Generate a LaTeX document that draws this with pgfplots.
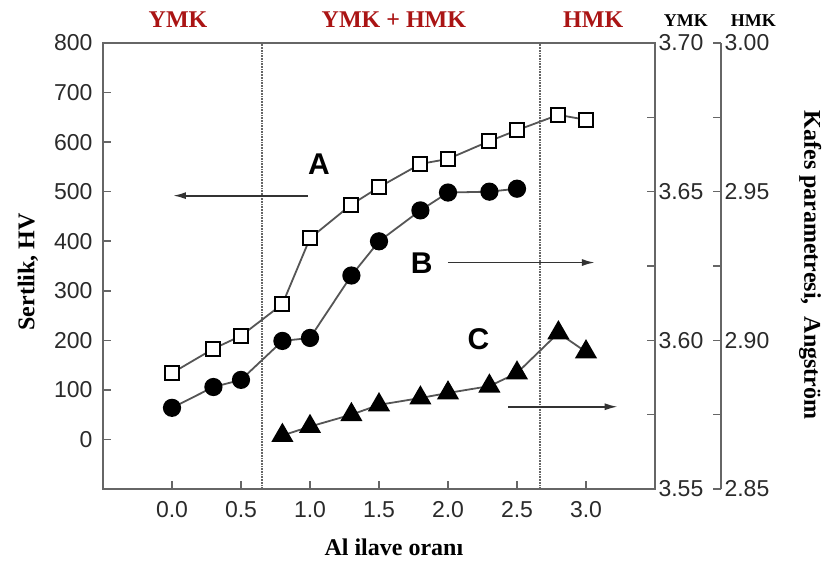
\documentclass[border=0pt]{standalone}
\usepackage{fontspec}
\setmainfont{Liberation Serif}
\newfontfamily\arial{Liberation Sans}
\usepackage{pgfplots}
\pgfplotsset{compat=1.18}
\usetikzlibrary{arrows.meta}
\definecolor{spine}{HTML}{666666}
\definecolor{ticktext}{HTML}{2A2A2A}
\definecolor{conn}{HTML}{555555}
\definecolor{zonered}{HTML}{AA1414}

\pgfplotsset{
  base/.style={scale only axis, width=552pt, height=446pt,
    xmin=-0.5, xmax=3.5, clip=false,
    axis line style={spine, line width=1.9pt},
    tick style={spine, line width=1.6pt},
    tick align=inside, major tick length=8pt, minor tick length=8pt,
    tick label style={font=\arial\fontsize{23}{23}\selectfont, text=ticktext},
    /pgf/number format/assume math mode=true},
}

\begin{document}
\begin{tikzpicture}
% hardness (left axis)
\begin{axis}[base, name=main,
    ymin=-100, ymax=800,
    xtick={0,0.5,1,1.5,2,2.5,3}, ytick={0,100,...,800},
    xtick pos=bottom, ytick pos=left,
    xticklabel style={yshift=-9pt, /pgf/number format/.cd, fixed, fixed zerofill, precision=1},
    yticklabel style={xshift=-7pt},
    xlabel={\bfseries Al ilave oranı},
    xlabel style={font=\fontsize{24}{24}\selectfont, at={(axis description cs:0.527,-0.150)}, anchor=base},
    ylabel={\bfseries Sertlik,\ HV},
    ylabel style={font=\fontsize{24}{24}\selectfont, at={(axis description cs:-0.136,0.487)}, anchor=center},
  ]
  \draw[spine, densely dotted, line width=1.7pt] (axis cs:0.652,-100) -- (axis cs:0.652,800);
  \draw[spine, densely dotted, line width=1.7pt] (axis cs:2.667,-100) -- (axis cs:2.667,800);

  \addplot[conn, line width=1.8pt, mark=square*, mark size=7pt,
    mark options={fill=white, draw=black, line width=2pt}] coordinates {
    (0.0,134) (0.3,183) (0.5,209) (0.8,273) (1.0,406) (1.3,474) (1.5,509)
    (1.8,556) (2.0,566) (2.3,602) (2.5,624) (2.8,655) (3.0,645)
  };

  \node[font=\arial\bfseries\fontsize{30}{30}\selectfont] at (axis cs:1.065,556) {A};
  \node[font=\arial\bfseries\fontsize{30}{30}\selectfont] at (axis cs:1.81,355) {B};
  \node[font=\arial\bfseries\fontsize{30}{30}\selectfont] at (axis cs:2.22,203) {C};
  \draw[-{Latex[length=13pt,width=7pt]}, line width=1.8pt, black!80] (axis cs:0.985,492) -- (axis cs:0.007,492);
  \draw[-{Latex[length=13pt,width=7pt]}, line width=1.8pt, black!80] (axis cs:2.0,357) -- (axis cs:3.065,357);
  \draw[-{Latex[length=13pt,width=7pt]}, line width=1.8pt, black!80] (axis cs:2.435,66) -- (axis cs:3.23,66);

  \node[font=\bfseries\fontsize{24}{24}\selectfont, text=zonered, anchor=base] at (rel axis cs:0.136,1.034) {YMK};
  \node[font=\bfseries\fontsize{24}{24}\selectfont, text=zonered, anchor=base] at (rel axis cs:0.527,1.034) {YMK + HMK};
  \node[font=\bfseries\fontsize{24}{24}\selectfont, text=zonered, anchor=base] at (rel axis cs:0.888,1.034) {HMK};
  \node[font=\bfseries\fontsize{18}{18}\selectfont, anchor=base] at (rel axis cs:1.056,1.038) {YMK};
  \node[font=\bfseries\fontsize{18}{18}\selectfont, anchor=base] at (rel axis cs:1.178,1.038) {HMK};
\end{axis}

% lattice parameter, fcc (first right axis)
\begin{axis}[base,
    ymin=3.55, ymax=3.70,
    axis x line=none, axis y line*=right,
    ytick={3.55,3.60,3.65,3.70}, minor ytick={3.575,3.625,3.675},
    yticklabel style={/pgf/number format/.cd, fixed, fixed zerofill, precision=2},
    ylabel={\bfseries Kafes parametresi,\ \ Angström},
    ylabel style={font=\fontsize{24}{24}\selectfont, at={(axis description cs:1.281,0.502)}, anchor=center, rotate=180},
  ]
  \addplot[conn, line width=1.8pt, mark=*, mark size=8.2pt,
    mark options={fill=black, draw=black}] coordinates {
    (0.0,3.5773) (0.3,3.5843) (0.5,3.5867) (0.8,3.5998) (1.0,3.6008)
    (1.3,3.6218) (1.5,3.6333) (1.8,3.6437) (2.0,3.6497) (2.3,3.6500) (2.5,3.6510)
  };
\end{axis}

% lattice parameter, bcc (data)
\begin{axis}[base, ymin=2.85, ymax=3.00, hide axis]
  \addplot[conn, line width=1.8pt, mark=triangle*, mark size=11pt,
    mark options={fill=black, draw=black}] coordinates {
    (0.8,2.8680) (1.0,2.8710) (1.3,2.8750) (1.5,2.8783) (1.8,2.8806)
    (2.0,2.8823) (2.3,2.8846) (2.5,2.8890) (2.8,2.9025) (3.0,2.8961)
  };
\end{axis}

% second right axis (bcc scale)
\begin{axis}[base, at={(66pt,0pt)},
    ymin=2.85, ymax=3.00,
    axis x line=none, axis y line*=right,
    ytick={2.85,2.90,2.95,3.00}, minor ytick={2.875,2.925,2.975},
    yticklabel style={/pgf/number format/.cd, fixed, fixed zerofill, precision=2},
  ]
  \addplot[draw=none] coordinates {(0,2.9)};
\end{axis}

\pgfresetboundingbox
\path (-103pt,-73pt) rectangle (720pt,489pt);
\end{tikzpicture}
\end{document}
